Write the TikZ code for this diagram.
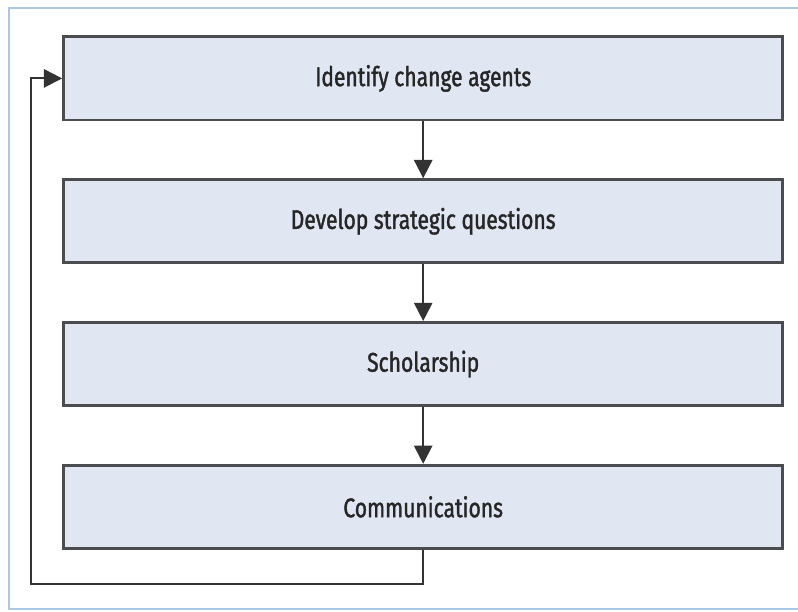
\documentclass[tikz,border=0pt]{standalone}
\usepackage{fontspec}
\setmainfont{Fira Sans}[FakeStretch=0.78, FakeBold=1.4]
\usepackage{tikz}
\usetikzlibrary{arrows.meta, positioning}
\definecolor{STEPFILL}{HTML}{E0E7F2}
\definecolor{STEPLINE}{HTML}{4A4C50}
\definecolor{FRAME}{HTML}{A9C7E6}
\tikzset{
  STEP/.style={% Style for the step boxes
      rectangle, line width=1pt,
      align=center,
      minimum width=8.99cm,
      minimum height=1.04cm,
      font=\fontsize{9.6}{11}\selectfont,
      text=black!85,
      fill=STEPFILL,
      draw=STEPLINE,
  },
  FLOW/.style={% Style for the connectors
      line width=0.7pt,
      draw=black!80,
      -{Triangle[length=6.5pt, width=6.5pt]},
  },
}
\begin{document}
\begin{tikzpicture}
    \useasboundingbox (0,0) rectangle (9.975,-7.6375);
    % frame
    \draw[FRAME, line width=1pt] (10.2,-0.1) -- (0.1125,-0.1) -- (0.1125,-7.6125) -- (10.2,-7.6125);
    % steps
    \node[STEP] (agents) at (5.29,-0.98) {Identify change agents};
    \node[STEP, below=0.71cm of agents] (questions) {Develop strategic questions};
    \node[STEP, below=0.71cm of questions] (scholarship) {Scholarship};
    \node[STEP, below=0.71cm of scholarship] (communications) {Communications};
    % arrows
    \draw[FLOW] (agents) -- (questions);
    \draw[FLOW] (questions) -- (scholarship);
    \draw[FLOW] (scholarship) -- (communications);
    \coordinate (loop) at (0.3875,-7.3);
    \draw[FLOW] (communications.south) |- (loop) |- (agents.west);
\end{tikzpicture}
\end{document}
